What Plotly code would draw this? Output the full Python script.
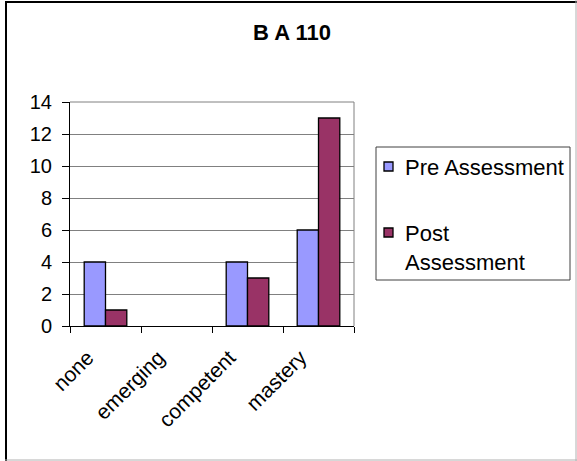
import plotly.graph_objects as go

# ---- data ----
categories = ["none", "emerging", "competent", "mastery"]
pre_values = [4, 0, 4, 6]
post_values = [1, 0, 3, 13]
series_names = ["Pre Assessment", "Post<br>Assessment"]
title_text = "B A 110"
y_ticks = [0, 2, 4, 6, 8, 10, 12, 14]

# ---- style ----
PRE_COLOR = "#9999FF"
POST_COLOR = "#993366"
FONT = "Arial, Liberation Sans, sans-serif"
W, H = 577, 461
L, R, T, B = 70, 223, 102, 135
PW, PH = W - L - R, H - T - B


def px(x):
    return (x - L) / PW


def py(y):
    return (H - B - y) / PH


def outline(values):
    return [1.3 if v else 0 for v in values]


fig = go.Figure()
fig.add_trace(go.Bar(x=categories, y=pre_values, name="Pre Assessment",
                     marker=dict(color=PRE_COLOR,
                                 line=dict(color="black", width=outline(pre_values))),
                     showlegend=False))
fig.add_trace(go.Bar(x=categories, y=post_values, name="Post Assessment",
                     marker=dict(color=POST_COLOR,
                                 line=dict(color="black", width=outline(post_values))),
                     showlegend=False))

shapes = [
    # plot frame top/right
    dict(type="line", xref="paper", yref="paper", x0=0, x1=1, y0=1, y1=1,
         line=dict(color="#808080", width=1)),
    dict(type="line", xref="paper", yref="paper", x0=1, x1=1, y0=0, y1=1,
         line=dict(color="#808080", width=1)),
    # outer frame
    dict(type="line", xref="paper", yref="paper", x0=px(6), x1=px(6), y0=py(1), y1=py(461),
         line=dict(color="black", width=2)),
    dict(type="line", xref="paper", yref="paper", x0=px(5), x1=px(577), y0=py(2), y1=py(2),
         line=dict(color="black", width=2)),
    dict(type="line", xref="paper", yref="paper", x0=px(576), x1=px(576), y0=py(0), y1=py(461),
         line=dict(color="#b0b0b0", width=1)),
    dict(type="line", xref="paper", yref="paper", x0=px(5), x1=px(577), y0=py(460), y1=py(460),
         line=dict(color="#b0b0b0", width=1)),
    # legend box
    dict(type="rect", xref="paper", yref="paper", x0=px(376), x1=px(570), y0=py(147), y1=py(280),
         line=dict(color="#404040", width=1), fillcolor="white"),
    # legend swatches
    dict(type="rect", xref="paper", yref="paper", x0=px(384), x1=px(393), y0=py(162), y1=py(171),
         line=dict(color="black", width=1.3), fillcolor=PRE_COLOR),
    dict(type="rect", xref="paper", yref="paper", x0=px(384), x1=px(393), y0=py(228), y1=py(237),
         line=dict(color="black", width=1.3), fillcolor=POST_COLOR),
]

annotations = [
    dict(text=series_names[0], xref="paper", yref="paper", x=px(403), y=py(167),
         xanchor="left", yanchor="middle", showarrow=False,
         font=dict(family=FONT, size=22, color="black")),
    dict(text=series_names[1], xref="paper", yref="paper", x=px(403), y=py(219),
         xanchor="left", yanchor="top", showarrow=False, align="left",
         font=dict(family=FONT, size=22, color="black")),
]

fig.update_layout(
    width=W, height=H,
    margin=dict(l=L, r=R, t=T, b=B),
    paper_bgcolor="white", plot_bgcolor="white",
    title=dict(text="<b>" + title_text + "</b>", x=292 / W, xref="container",
               xanchor="center", y=1 - 32 / H, yanchor="middle",
               font=dict(family=FONT, size=22, color="black")),
    font=dict(family=FONT, size=20, color="black"),
    barmode="group", bargap=0.4, bargroupgap=0,
    shapes=shapes, annotations=annotations,
    xaxis=dict(showline=True, linecolor="black", linewidth=1,
               ticks="outside", tickson="boundaries", ticklen=6, tickcolor="black",
               tickangle=-45, tickfont=dict(family=FONT, size=21),
               ticklabelshift=-18, ticklabelstandoff=10,
               showgrid=False),
    yaxis=dict(range=[0, 14], tickvals=y_ticks, showline=True, linecolor="black", linewidth=1,
               ticks="outside", ticklen=7, tickcolor="black",
               showgrid=True, gridcolor="#808080", gridwidth=1,
               tickfont=dict(family=FONT, size=20), ticklabelstandoff=6,
               zeroline=False),
)

fig.write_html("out.html", config={"displayModeBar": False},
               post_script="document.body.style.margin='0';")
